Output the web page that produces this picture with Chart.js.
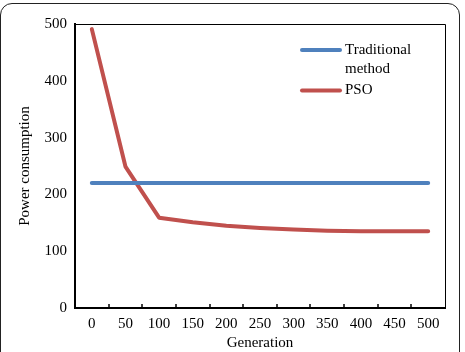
<!DOCTYPE html>
<html>
<head>
<meta charset="utf-8">
<script src="https://cdn.jsdelivr.net/npm/chart.js@4/dist/chart.umd.min.js"></script>
<style>
  html, body { margin: 0; padding: 0; background: #fff; overflow: hidden; }
  #wrap { position: relative; width: 465px; height: 352px; }
  #frame {
    position: absolute; left: 0px; top: 3px; width: 460px; height: 420px;
    border: 1.5px solid #222; border-radius: 12px; box-sizing: border-box;
  }
  canvas { position: absolute; left: 0; top: 0; }
</style>
</head>
<body>
<div id="wrap">
  <div id="frame"></div>
  <canvas id="chart" width="465" height="352"></canvas>
</div>
<script>
// data
const generations = ["0", "50", "100", "150", "200", "250", "300", "350", "400", "450", "500"];
const traditional = [220, 220, 220, 220, 220, 220, 220, 220, 220, 220, 220];
const pso = [491, 249, 159, 151, 145, 141, 138, 136, 135, 135, 135];
const legendLines = [["Traditional", "method"], ["PSO"]];

const FONT = "'Liberation Serif', 'Times New Roman', serif";

// plot box, inner x tick marks and the legend
const extras = {
  id: "extras",
  afterDraw(chart) {
    const ctx = chart.ctx;
    const a = chart.chartArea;
    const xs = chart.scales.x;
    ctx.save();
    ctx.strokeStyle = "#000";
    ctx.lineWidth = 1;
    ctx.beginPath();
    ctx.moveTo(a.left, a.top + 0.5);
    ctx.lineTo(a.right + 0.5, a.top + 0.5);
    ctx.lineTo(a.right + 0.5, a.bottom);
    ctx.stroke();

    // tick marks between categories, pointing up
    ctx.lineWidth = 1.5;
    for (let i = 1; i < generations.length; i++) {
      const x = Math.round((xs.getPixelForValue(i - 1) + xs.getPixelForValue(i)) / 2);
      ctx.beginPath();
      ctx.moveTo(x, a.bottom);
      ctx.lineTo(x, a.bottom - 4);
      ctx.stroke();
    }

    // legend
    const ds = chart.data.datasets;
    const rowY = [a.top + 26, a.top + 66.5];
    ctx.font = "15px " + FONT;
    ctx.textBaseline = "middle";
    ctx.textAlign = "left";
    ctx.lineCap = "round";
    ds.forEach((d, k) => {
      ctx.strokeStyle = d.borderColor;
      ctx.lineWidth = 4;
      ctx.beginPath();
      ctx.moveTo(a.right - 143, rowY[k]);
      ctx.lineTo(a.right - 105, rowY[k]);
      ctx.stroke();
      ctx.fillStyle = "#000";
      legendLines[k].forEach((t, j) => {
        ctx.fillText(t, a.right - 100, rowY[k] + j * 19);
      });
    });
    ctx.restore();
  }
};

new Chart(document.getElementById("chart"), {
  type: "line",
  data: {
    labels: generations,
    datasets: [
      {
        label: "Traditional method",
        data: traditional,
        borderColor: "#4F81BD",
        borderWidth: 4,
        pointRadius: 0,
        borderCapStyle: "round",
        borderJoinStyle: "round",
        tension: 0
      },
      {
        label: "PSO",
        data: pso,
        borderColor: "#C0504D",
        borderWidth: 4,
        pointRadius: 0,
        borderCapStyle: "round",
        borderJoinStyle: "round",
        tension: 0
      }
    ]
  },
  options: {
    responsive: false,
    animation: false,
    layout: { padding: { left: 0, right: 20, top: 24, bottom: 0 } },
    plugins: {
      legend: { display: false },
      tooltip: { enabled: false }
    },
    scales: {
      x: {
        offset: true,
        grid: { display: false, drawTicks: false },
        border: { display: true, color: "#000", width: 2 },
        ticks: { color: "#000", font: { family: FONT, size: 15 }, padding: 7, maxRotation: 0, autoSkip: false },
        title: { display: true, text: "Generation", color: "#000", font: { family: FONT, size: 15 }, padding: 0 },
        afterFit(s) { s.height = 44; }
      },
      y: {
        min: 0,
        max: 500,
        grid: { display: false, drawTicks: false },
        border: { display: true, color: "#000", width: 2 },
        ticks: { stepSize: 100, color: "#000", font: { family: FONT, size: 15 }, padding: 8 },
        title: { display: true, text: "Power consumption", color: "#000", font: { family: FONT, size: 15 }, padding: { top: 16, bottom: 0 } },
        afterFit(s) { s.width = 75; }
      }
    }
  },
  plugins: [extras]
});
</script>
</body>
</html>
